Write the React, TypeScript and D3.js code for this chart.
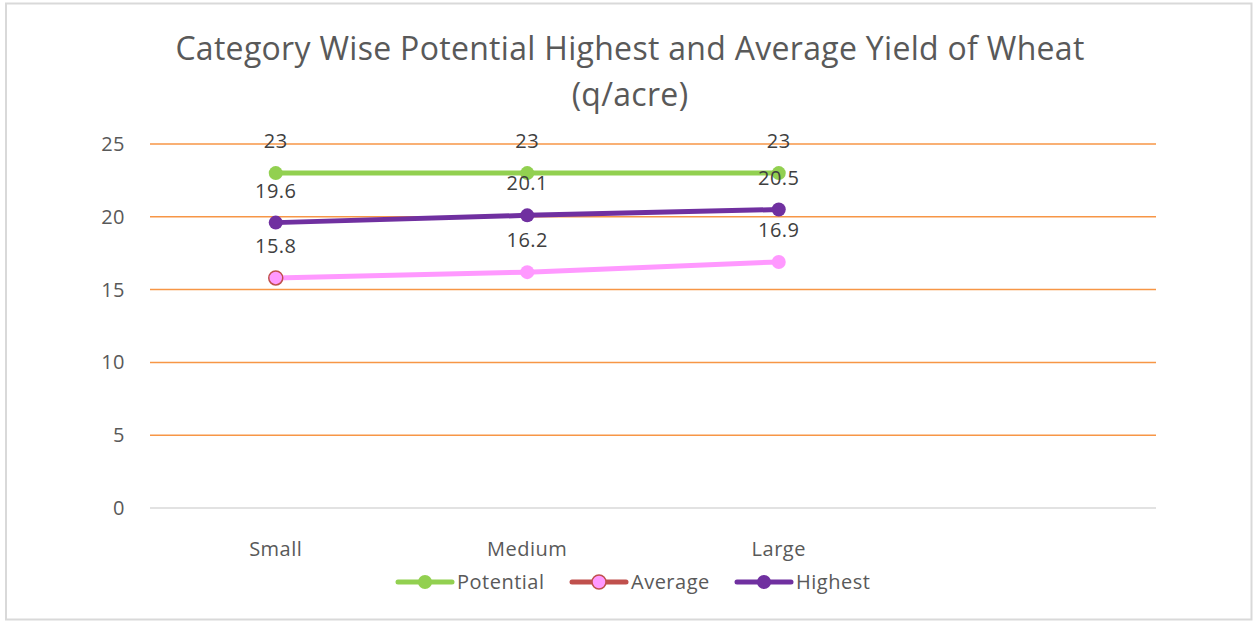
import React from "react";
import * as d3 from "d3";

const categories = ["Small", "Medium", "Large", ""];
const potential = [23, 23, 23];
const average = [15.8, 16.2, 16.9];
const highest = [19.6, 20.1, 20.5];
const yTicks = [0, 5, 10, 15, 20, 25];
const titleLines = ["Category Wise Potential Highest and Average Yield of Wheat", "(q/acre)"];

const W = 1253, H = 621;
const FONT = "'Open Sans', Lato, sans-serif";

export default function App() {
  const x = d3.scaleBand<string>().domain(categories).range([150, 1156]);
  const y = d3.scaleLinear().domain([0, 25]).range([508, 144]);
  const cx = (i: number) => (x(categories[i]) as number) + x.bandwidth() / 2;
  const line = d3.line<number>().x((_, i) => cx(i)).y((v) => y(v));

  const series = [
    { name: "Potential", values: potential, color: "#92D050", legendLine: "#92D050", markerFill: "#92D050", markerStroke: "none" },
    { name: "Average", values: average, color: "#FF99FF", legendLine: "#C0504D", markerFill: "#FF99FF", markerStroke: "#C0504D" },
    { name: "Highest", values: highest, color: "#7030A0", legendLine: "#7030A0", markerFill: "#7030A0", markerStroke: "none" },
  ];
  const legendX = [398, 572, 737];

  return (
    <svg width={W} height={H} style={{ position: "absolute", left: 0, top: 0, fontFamily: FONT }}>
      <rect x={0} y={0} width={W} height={H} fill="#fff" />
      <rect x={6} y={3.5} width={1245.5} height={616} fill="#fff" stroke="#D9D9D9" strokeWidth={2} />
      {titleLines.map((t, i) => (
        <text key={i} x={630} y={60 + i * 46} textAnchor="middle" fontSize={32} letterSpacing={0.3} fill="#595959">{t}</text>
      ))}
      {yTicks.map((t) => (
        <g key={t}>
          <line x1={150} x2={1156} y1={y(t)} y2={y(t)} stroke={t === 0 ? "#D9D9D9" : "#F79646"} strokeWidth={1.5} />
          <text x={125} y={y(t) + 7} textAnchor="end" fontSize={20} letterSpacing={0.5} fill="#595959">{t}</text>
        </g>
      ))}
      {categories.map((c, i) => (
        <text key={i} x={cx(i)} y={556} textAnchor="middle" fontSize={20} letterSpacing={0.5} fill="#595959">{c}</text>
      ))}
      {series.map((s) => (
        <g key={s.name}>
          <path d={line(s.values) as string} fill="none" stroke={s.color} strokeWidth={5} strokeLinecap="round" />
          {s.values.map((v, i) => (
            <circle key={i} cx={cx(i)} cy={y(v)} r={7}
              fill={s.markerFill}
              stroke={s.name === "Average" && i === 0 ? s.markerStroke : "none"}
              strokeWidth={1.5} />
          ))}
        </g>
      ))}
      {series.map((s) => (
        <g key={s.name + "l"}>
          {s.values.map((v, i) => (
            <text key={i} x={cx(i)} y={y(v) - 25} textAnchor="middle" fontSize={20} letterSpacing={0.5} fill="#404040">{v}</text>
          ))}
        </g>
      ))}
      {series.map((s, k) => (
        <g key={s.name + "leg"}>
          <line x1={legendX[k]} x2={legendX[k] + 54} y1={582} y2={582} stroke={s.legendLine} strokeWidth={5} strokeLinecap="round" />
          <circle cx={legendX[k] + 27} cy={582} r={7} fill={s.markerFill}
            stroke={s.markerStroke} strokeWidth={1.5} />
          <text x={legendX[k] + 59} y={589} fontSize={20} letterSpacing={0.5} fill="#595959">{s.name}</text>
        </g>
      ))}
    </svg>
  );
}
